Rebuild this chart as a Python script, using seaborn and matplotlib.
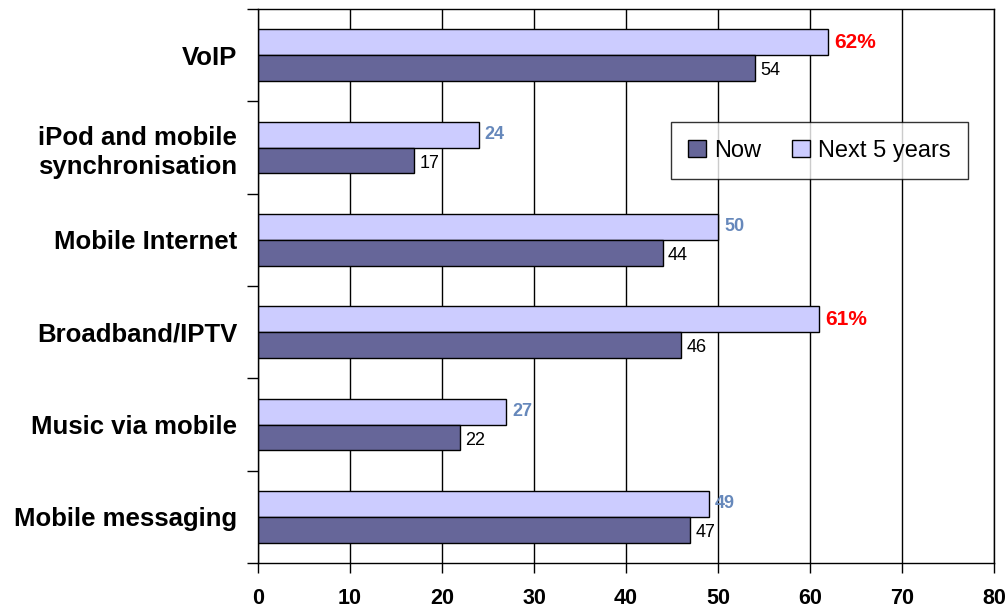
import matplotlib
matplotlib.use("Agg")
import matplotlib.pyplot as plt
import seaborn as sns
import pandas as pd
from matplotlib.patches import Patch

categories = ["VoIP", "iPod and mobile\nsynchronisation", "Mobile Internet",
              "Broadband/IPTV", "Music via mobile", "Mobile messaging"]
now_vals = [54, 17, 44, 46, 22, 47]
next_vals = [62, 24, 50, 61, 27, 49]
next_labels = ["62%", "24", "50", "61%", "27", "49"]
x_ticks = [0, 10, 20, 30, 40, 50, 60, 70, 80]

sns.set_style("white")
plt.rcParams['font.family'] = ['Liberation Sans', 'DejaVu Sans']
plt.rcParams['text.color'] = 'black'
plt.rcParams['xtick.color'] = 'black'
plt.rcParams['ytick.color'] = 'black'

df = pd.DataFrame({
    "category": categories * 2,
    "value": next_vals + now_vals,
    "series": ["Next 5 years"] * 6 + ["Now"] * 6,
})

fig = plt.figure(figsize=(10.07, 6.08), dpi=100)
ax = fig.add_axes([258/1007, 1-563/608, (994-258)/1007, (563-9)/608])

palette = {"Now": "#666699", "Next 5 years": "#CCCCFF"}
sns.barplot(data=df, y="category", x="value", hue="series",
            hue_order=["Next 5 years", "Now"], order=categories,
            palette=palette, orient="h", width=0.56, saturation=1,
            edgecolor="black", linewidth=1, ax=ax, legend=False)

ax.set_xlim(0, 80)
ax.set_ylim(5.5, -0.5)
ax.set_xticks(x_ticks)
ax.set_xticklabels([str(t) for t in x_ticks], fontsize=15.5, fontweight="bold", color="black")
ax.xaxis.grid(True, color="black", linewidth=1)
ax.set_axisbelow(True)
ax.set_xlabel("")
ax.set_ylabel("")

# y ticks at category boundaries, labels at centers
ax.set_yticks([i + 0.5 for i in range(-1, 6)], minor=False)
ax.set_yticklabels([])
ax.set_yticks(range(6), minor=True)
ax.set_yticklabels(categories, minor=True, fontsize=18.5, fontweight="bold",
                   ha="right", multialignment="center", color="black",
                   linespacing=1.25)
ax.tick_params(axis="y", which="minor", length=0, pad=15)
ax.tick_params(axis="y", which="major", direction="out", length=8, width=1, color="black", left=True)
ax.tick_params(axis="x", direction="out", length=7, width=1, color="black", bottom=True, pad=11)
for s in ax.spines.values():
    s.set_visible(True)
    s.set_color("black")
    s.set_linewidth(1)

# value labels
containers = ax.containers
next_c, now_c = containers[0], containers[1]
for bar, lab in zip(next_c, next_labels):
    red = lab.endswith("%")
    ax.text(bar.get_width() + 0.65, bar.get_y() + bar.get_height()/2, lab,
            va="center", ha="left", fontsize=15 if red else 13, fontweight="bold",
            color="#FF0000" if red else "#6688BB")
for bar, v in zip(now_c, now_vals):
    ax.text(bar.get_width() + 0.55, bar.get_y() + bar.get_height()/2 + 0.03, str(v),
            va="center", ha="left", fontsize=13, color="black")

handles = [Patch(facecolor="#666699", edgecolor="black", linewidth=1),
           Patch(facecolor="#CCCCFF", edgecolor="black", linewidth=1)]
leg = ax.legend(handles, ["Now", "Next 5 years"], ncol=2, loc="center",
                bbox_to_anchor=((819.5-258)/(994-258), 1-(150.5-9)/(563-9)),
                fontsize=17, frameon=True, fancybox=False, edgecolor="black",
                handlelength=0.75, handleheight=0.75, handletextpad=0.35,
                columnspacing=1.3, borderpad=0.75, borderaxespad=0)
leg.get_frame().set_linewidth(1)
for t in leg.get_texts():
    t.set_color("black")

fig.savefig("out.png", dpi=100, facecolor="white")
